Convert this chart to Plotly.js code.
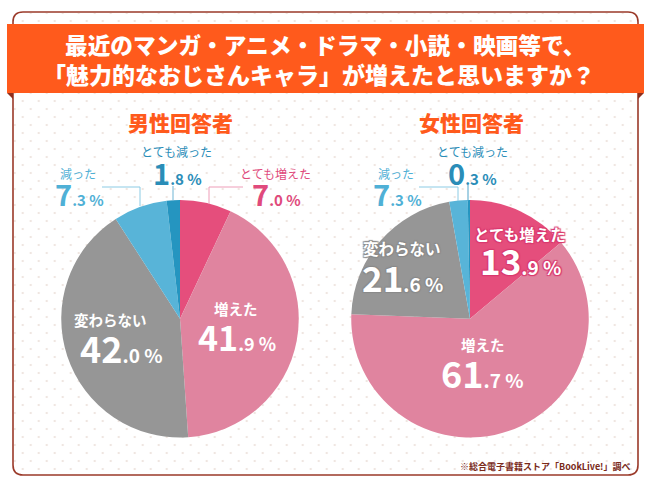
<!DOCTYPE html>
<html><head><meta charset="utf-8">
<script src="https://cdn.plot.ly/plotly-3.0.1.min.js"></script>
<style>
html,body{margin:0;padding:0;background:#fff;width:650px;height:487px;overflow:hidden}
#dots{position:absolute;left:14px;top:13px;width:623px;height:461px;border-radius:8px;
background-image:radial-gradient(circle,#efe6e1 1.0px,transparent 1.6px),radial-gradient(circle,#efe6e1 1.0px,transparent 1.6px);
background-size:16px 16px;background-position:0.7px 0,8.7px 8px}
#c{position:absolute;left:0;top:0;width:650px;height:487px}
</style></head><body><div id="dots"></div><div id="c"></div>
<script>
const categories=["とても増えた","増えた","変わらない","減った","とても減った"];
const maleValues=[7.0,41.9,42.0,7.3,1.8];
const femaleValues=[13.9,61.7,21.6,2.5,0.3];
const sliceColors=["#E54E7C","#E0849F","#969696","#58B4D8","#2595C0"];
const FONT='"Noto Sans CJK JP","Noto Sans",sans-serif';
const W=650,H=487;
const px=x=>x/W, py=y=>1-y/H;
const ann=[];
function t(text,x,y,size,color,extra){ann.push({text:text,x:px(x),y:py(y),xref:'paper',yref:'paper',showarrow:false,xanchor:'center',yanchor:'middle',
 font:Object.assign({family:FONT,size:size,color:color,weight:700},extra||{})});}
function num(a,b,small){return a+'<span style="font-size:'+small+'px">.'+b+' %</span>';}
// banner
t("最近のマンガ・アニメ・ドラマ・小説・映画等で、",325,45,22.7,"#fff",{weight:900});
t("「魅力的なおじさんキャラ」が増えたと思いますか？",319,74,23,"#fff",{weight:900});
t("男性回答者",180,122,21,"#FF5A1C",{weight:900});
t("女性回答者",471,122,21,"#FF5A1C",{weight:900});
const deep="#2A8DB8",lite="#4FB0D6",rose="#E04A7C";
// male
t("とても減った",176,151,12,deep,{weight:400});
t(num("1","8",15),177,172,29,deep);
t("減った",78,173,12,lite,{weight:400});
t(num("7","3",15),79,193,29,lite);
t("とても増えた",275,173,12,rose,{weight:400});
t(num("7","0",15),276,193,29,rose);
t("増えた",236,308,14.5,"#fff");
t(num("41","9",18),237,336,34,"#fff");
t("変わらない",110,319,14.5,"#fff");
t(num("42","0",19),121,347,36,"#fff");
// female
t("とても減った",473,151,12,deep,{weight:400});
t(num("0","3",15),473,172,29,deep);
t("減った",396,173,12,lite,{weight:400});
t(num("7","3",15),397,193,29,lite);
const halo1="1px 1px 1px #8a8a8a,-1px -1px 1px #8a8a8a,1px -1px 1px #8a8a8a,-1px 1px 1px #8a8a8a";
const halo2="1px 1px 1px #D9386E,-1px -1px 1px #D9386E,1px -1px 1px #D9386E,-1px 1px 1px #D9386E";
t("変わらない",402,248,15.5,"#fff",{shadow:halo1});
t(num("21","6",19),402,276,35,"#fff",{shadow:halo1});
t("とても増えた",520,234,15.5,"#fff",{shadow:halo2});
t(num("13","9",19),520,259,35,"#fff",{shadow:halo2});
t("増えた",483,344,14.5,"#fff");
t(num("61","7",19),482,372,36,"#fff");
// footnote
ann.push({text:"※総合電子書籍ストア「BookLive!」調べ",x:px(632),y:py(466),xref:'paper',yref:'paper',showarrow:false,xanchor:'right',yanchor:'middle',font:{family:FONT,size:9,color:"#7A2A1A",weight:700}});

function line(pts,color){return {type:'path',xref:'paper',yref:'paper',layer:'above',line:{color:color,width:1},
 path:pts.map((p,i)=>(i?'L':'M')+px(p[0])+','+py(p[1])).join(' ')};}
function poly(pts,fill,lc,lw,layer){return {type:'path',xref:'paper',yref:'paper',layer:layer||'below',fillcolor:fill,line:{color:lc||fill,width:lw||0},
 path:pts+' Z'};}
function P(x,y){return px(x)+','+py(y);}
const shapes=[
 {type:'path',xref:'paper',yref:'paper',layer:'below',line:{color:"#9B3A2A",width:1.6},
  path:'M'+P(13,22)+' Q'+P(13,12)+' '+P(23,12)+' L'+P(628,12)+' Q'+P(638,12)+' '+P(638,22)+' L'+P(638,465)+' Q'+P(638,475)+' '+P(628,475)+' L'+P(23,475)+' Q'+P(13,475)+' '+P(13,465)+' Z'},
 poly('M'+P(7,93)+' L'+P(13,93)+' L'+P(13,99),"#8E2F1E"),
 poly('M'+P(644,93)+' L'+P(638,93)+' L'+P(638,99),"#8E2F1E"),
 poly('M'+P(7,24)+' L'+P(644,24)+' L'+P(644,93)+' L'+P(7,93),"#FF5A1C"),
 line([[102,187],[140,187],[140,206]],"#8CCBE4"),
 line([[173,186],[173,201]],"#6FB5D4"),
 line([[243,187],[209,187],[209,204]],"#EE9DB8"),
 line([[419,187],[458,187],[458,201]],"#8CCBE4"),
 line([[468,185],[468,201]],"#4FA3C9")
];
function pie(values,x0,x1){return {type:'pie',values:values,labels:categories,sort:false,direction:'clockwise',rotation:0,
 marker:{colors:sliceColors,line:{width:0}},textinfo:'none',hoverinfo:'skip',showlegend:false,
 domain:{x:[px(x0),px(x1)],y:[py(437.5),py(200)]}};}
Plotly.newPlot('c',[pie(maleValues,61,299),pie(femaleValues,351,589)],{
 width:W,height:H,margin:{l:0,r:0,t:0,b:0},paper_bgcolor:'rgba(0,0,0,0)',plot_bgcolor:'rgba(0,0,0,0)',
 showlegend:false,annotations:ann,shapes:shapes,font:{family:FONT}
},{displayModeBar:false,staticPlot:true});
</script></body></html>
